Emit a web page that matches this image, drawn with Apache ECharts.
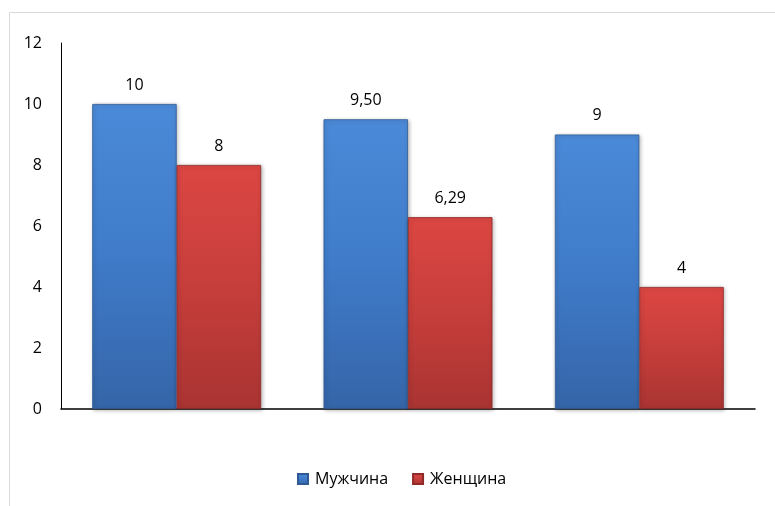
<!DOCTYPE html>
<html><head><meta charset="utf-8">
<script src="https://cdn.jsdelivr.net/npm/echarts@6/dist/echarts.min.js"></script>
<style>html,body{margin:0;padding:0;background:#fff}#c{width:775px;height:506px}</style>
</head><body><div id="c"></div>
<script>
var categories = ['1', '2', '3'];
var men = [10, 9.5, 9];
var women = [8, 6.29, 4];
var seriesNames = ['Мужчина', 'Женщина'];
var yTicks = { min: 0, max: 12, interval: 2 };

function fmt(p) {
  var v = p.value;
  return Number.isInteger(v) ? String(v) : v.toFixed(2).replace('.', ',');
}
function grad(top, mid, bottom) {
  return new echarts.graphic.LinearGradient(0, 0, 0, 1, [
    { offset: 0, color: top }, { offset: 0.5, color: mid }, { offset: 1, color: bottom }
  ]);
}
var font = '"Open Sans", Lato, sans-serif';
var chart = echarts.init(document.getElementById('c'));
chart.setOption({
  animation: false,
  textStyle: { fontFamily: font },
  graphic: [{
    type: 'rect', shape: { x: 9.5, y: 12.5, width: 800, height: 600 },
    style: { fill: 'none', stroke: '#d9d9d9', lineWidth: 1 }, silent: true
  }],
  grid: { left: 61, right: 20, top: 43, bottom: 97 },
  legend: {
    data: seriesNames, bottom: 14, left: 292, itemWidth: 10, itemHeight: 10, itemGap: 24,
    icon: 'rect',
    textStyle: { fontSize: 16, color: '#000', fontFamily: font, padding: [0, 0, 0, 2] }
  },
  xAxis: {
    type: 'category', data: categories,
    axisLine: { lineStyle: { color: '#000', width: 1.5 } },
    axisTick: { show: false }, axisLabel: { show: false }
  },
  yAxis: {
    type: 'value', min: yTicks.min, max: yTicks.max, interval: yTicks.interval,
    axisLine: { show: true, lineStyle: { color: '#000', width: 1 } },
    axisTick: { show: false }, splitLine: { show: false },
    axisLabel: { color: '#000', fontSize: 16, margin: 19, fontFamily: font }
  },
  series: [{
    name: seriesNames[0], type: 'bar', data: men, barGap: '0%', barCategoryGap: '27%',
    itemStyle: {
      color: grad('#4b8ad8', '#3f7bc9', '#3565a8'), borderColor: '#2f5a96', borderWidth: 0.8,
      shadowColor: 'rgba(0,0,0,0.3)', shadowBlur: 4, shadowOffsetX: 1, shadowOffsetY: 1
    },
    label: { show: true, position: 'top', distance: 11, color: '#000', fontSize: 16, formatter: fmt }
  }, {
    name: seriesNames[1], type: 'bar', data: women,
    itemStyle: {
      color: grad('#dc4743', '#c63e3b', '#a93432'), borderColor: '#8f2a28', borderWidth: 0.8,
      shadowColor: 'rgba(0,0,0,0.3)', shadowBlur: 4, shadowOffsetX: 1, shadowOffsetY: 1
    },
    label: { show: true, position: 'top', distance: 11, color: '#000', fontSize: 16, formatter: fmt }
  }]
});
</script></body></html>
